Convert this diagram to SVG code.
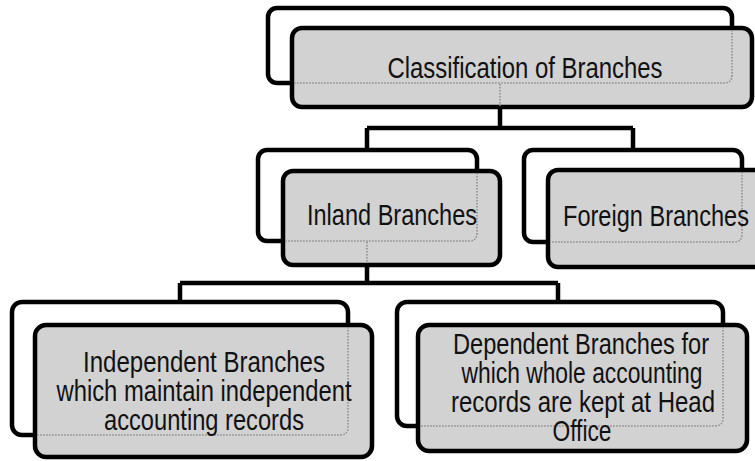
<svg xmlns="http://www.w3.org/2000/svg" width="755" height="461" viewBox="0 0 755 461">
<style>
.back{fill:#ffffff;stroke:#000;stroke-width:4.5}
.front{fill:#d2d2d2;stroke:#000;stroke-width:4.5}
.ghost{fill:none;stroke:#8a8a8a;stroke-width:1.5;stroke-dasharray:1.5 1.5}
.conn{fill:none;stroke:#000;stroke-width:4.5}
text{font-family:"Liberation Sans Narrow","Arial Narrow","Liberation Sans",sans-serif;font-size:30px;fill:#111;text-anchor:middle}
</style>
<rect width="755" height="461" fill="#fff"/>
<g id="connectors">
<path class="conn" d="M500,107 V128 M367,128 H633 M367,128 V150 M633,128 V150"/>
<path class="conn" d="M367,264 V283 M180,283 H558 M180,283 V302 M558,283 V302"/>
</g>
<g id="node-classification">
<rect class="back" x="268" y="8" width="464" height="75" rx="9"/>
<rect class="front" x="292" y="28" width="460" height="79" rx="10"/>
<path class="ghost" d="M732,30 V75 Q732,83 724,83 H294 M500,84 V106"/>
<text x="525" y="78" textLength="275" lengthAdjust="spacingAndGlyphs">Classification of Branches</text>
</g>
<g id="node-inland">
<rect class="back" x="258" y="150" width="219" height="91" rx="9"/>
<rect class="front" x="283" y="171" width="217" height="94" rx="10"/>
<path class="ghost" d="M477,173 V233 Q477,241 469,241 H285 M367,242 V263"/>
<text x="392" y="225" textLength="170" lengthAdjust="spacingAndGlyphs">Inland Branches</text>
</g>
<g id="node-foreign">
<rect class="back" x="524" y="150" width="218" height="92" rx="9"/>
<rect class="front" x="548" y="170" width="220" height="97" rx="10"/>
<path class="ghost" d="M742,172 V234 Q742,242 734,242 H550"/>
<text x="656" y="226" textLength="186" lengthAdjust="spacingAndGlyphs">Foreign Branches</text>
</g>
<g id="node-independent">
<rect class="back" x="12" y="302" width="336" height="133" rx="10"/>
<rect class="front" x="35" y="325" width="337" height="132" rx="11"/>
<path class="ghost" d="M348,327 V427 Q348,435 340,435 H37"/>
<text x="204" y="372" textLength="242" lengthAdjust="spacingAndGlyphs">Independent Branches</text>
<text x="204" y="401" textLength="295" lengthAdjust="spacingAndGlyphs">which maintain independent</text>
<text x="204" y="430" textLength="200" lengthAdjust="spacingAndGlyphs">accounting records</text>
</g>
<g id="node-dependent">
<rect class="back" x="397" y="302" width="326" height="124" rx="10"/>
<rect class="front" x="418" y="325" width="329" height="126" rx="11"/>
<path class="ghost" d="M723,327 V418 Q723,426 715,426 H420"/>
<text x="581" y="354" textLength="256" lengthAdjust="spacingAndGlyphs">Dependent Branches for</text>
<text x="582" y="383" textLength="241" lengthAdjust="spacingAndGlyphs">which whole accounting</text>
<text x="583" y="412" textLength="264" lengthAdjust="spacingAndGlyphs">records are kept at Head</text>
<text x="582" y="441" textLength="59" lengthAdjust="spacingAndGlyphs">Office</text>
</g>
</svg>
